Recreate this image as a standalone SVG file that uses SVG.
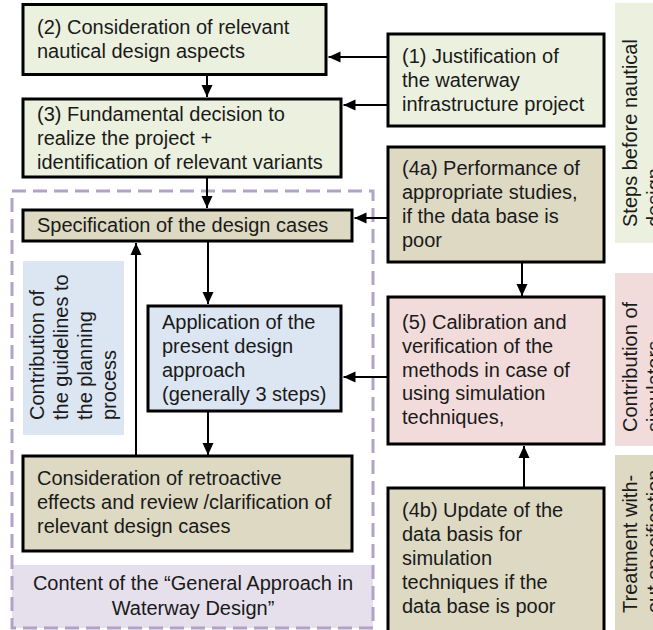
<svg xmlns="http://www.w3.org/2000/svg" width="653" height="630" viewBox="0 0 653 630">
  <style>
    text { font-family: "Liberation Sans", Arial, sans-serif; font-size: 20px; fill: #1a1a1a; }
    .box { stroke: #000; stroke-width: 3; }
    .green { fill: #ebf1de; }
    .tan { fill: #ddd9c3; }
    .pink { fill: #f2dcdb; }
    .blue { fill: #dce6f2; }
    .lav { fill: #e5e0ec; }
    .conn { stroke: #000; stroke-width: 2; fill: none; marker-end: url(#arrow); }
  </style>
  <defs>
    <marker id="arrow" markerUnits="userSpaceOnUse" markerWidth="12" markerHeight="12" viewBox="0 0 12 12" refX="12" refY="6" orient="auto">
      <path d="M0,0.5 L12,6 L0,11.5 Z" fill="#000"/>
    </marker>
  </defs>

  <!-- side labels -->
  <g id="label-steps">
    <rect class="green" x="615" y="3" width="40" height="240"/>
    <text transform="translate(637,227) rotate(-90)"><tspan x="0" y="0">Steps before nautical</tspan><tspan x="0" y="24">design</tspan></text>
  </g>
  <g id="label-simulators">
    <rect class="pink" x="615" y="273" width="40" height="173"/>
    <text transform="translate(637,432) rotate(-90)"><tspan x="0" y="0">Contribution of</tspan><tspan x="0" y="24">simulators</tspan></text>
  </g>
  <g id="label-treatment">
    <rect class="tan" x="615" y="455" width="40" height="180"/>
    <text transform="translate(637,613) rotate(-90)"><tspan x="0" y="0">Treatment with-</tspan><tspan x="0" y="24">out specification</tspan></text>
  </g>

  <!-- general approach frame -->
  <g id="content-frame">
    <rect class="lav" x="12" y="565" width="361" height="63"/>
    <rect x="12" y="191" width="361" height="437" fill="none" stroke="#b3a2c7" stroke-width="3" stroke-dasharray="14 7"/>
    <text x="193" y="590" text-anchor="middle">Content of the “General Approach in</text>
    <text x="193" y="615" text-anchor="middle">Waterway Design”</text>
  </g>
  <g id="label-guidelines">
    <rect class="blue" x="23" y="261" width="101" height="174"/>
    <text transform="translate(44,420) rotate(-90)"><tspan x="0" y="0">Contribution of</tspan><tspan x="0" y="24">the guidelines to</tspan><tspan x="0" y="48">the planning</tspan><tspan x="0" y="72">process</tspan></text>
  </g>

  <!-- connectors -->
  <g id="connectors">
    <line class="conn" x1="387" y1="57" x2="328.5" y2="57"/>
    <line class="conn" x1="387" y1="105" x2="343.5" y2="105"/>
    <line class="conn" x1="207" y1="76" x2="207" y2="97"/>
    <line class="conn" x1="207" y1="178" x2="207" y2="208"/>
    <line class="conn" x1="387" y1="218" x2="354.5" y2="218"/>
    <line class="conn" x1="208" y1="242" x2="208" y2="304"/>
    <line class="conn" x1="522" y1="263" x2="522" y2="296"/>
    <line class="conn" x1="387" y1="377" x2="343.5" y2="377"/>
    <line class="conn" x1="524" y1="487" x2="524" y2="446"/>
    <line class="conn" x1="208" y1="412" x2="208" y2="455"/>
    <line class="conn" x1="136" y1="455" x2="136" y2="243"/>
  </g>

  <!-- nodes -->
  <g id="step1">
    <rect class="box green" x="388" y="34" width="216" height="92"/>
    <text x="402" y="63">(1) Justification of</text>
    <text x="402" y="87">the waterway</text>
    <text x="402" y="111">infrastructure project</text>
  </g>
  <g id="step2">
    <rect class="box green" x="23" y="4.5" width="303" height="70"/>
    <text x="37" y="34">(2) Consideration of relevant</text>
    <text x="37" y="58">nautical design aspects</text>
  </g>
  <g id="step3">
    <rect class="box green" x="23" y="99" width="318" height="78"/>
    <text x="37" y="121">(3) Fundamental  decision to</text>
    <text x="37" y="145">realize the project +</text>
    <text x="37" y="169">identification of relevant variants</text>
  </g>
  <g id="step4a">
    <rect class="box tan" x="388" y="147" width="216" height="115"/>
    <text x="402" y="175">(4a) Performance of</text>
    <text x="402" y="199">appropriate studies,</text>
    <text x="402" y="223">if the data base is</text>
    <text x="402" y="247">poor</text>
  </g>
  <g id="step5">
    <rect class="box pink" x="388" y="297" width="216" height="147"/>
    <text x="402" y="329">(5) Calibration and</text>
    <text x="402" y="353">verification of the</text>
    <text x="402" y="377">methods in case of</text>
    <text x="402" y="400">using simulation</text>
    <text x="402" y="424">techniques,</text>
  </g>
  <g id="step4b">
    <rect class="box tan" x="388" y="488" width="216" height="150"/>
    <text x="402" y="517">(4b) Update of the</text>
    <text x="402" y="541">data basis for</text>
    <text x="402" y="565">simulation</text>
    <text x="402" y="589">techniques if the</text>
    <text x="402" y="613">data base is poor</text>
  </g>
  <g id="design-cases">
    <rect class="box tan" x="23" y="210" width="329" height="31"/>
    <text x="37" y="232">Specification of the design cases</text>
  </g>
  <g id="design-approach">
    <rect class="box blue" x="148" y="306" width="193" height="105"/>
    <text x="162" y="329">Application of the</text>
    <text x="162" y="353">present design</text>
    <text x="162" y="377">approach</text>
    <text x="162" y="401">(generally 3 steps)</text>
  </g>
  <g id="retroactive-effects">
    <rect class="box tan" x="23" y="456" width="329" height="95"/>
    <text x="37" y="485">Consideration of retroactive</text>
    <text x="37" y="509">effects and review /clarification of</text>
    <text x="37" y="533">relevant design cases</text>
  </g>
</svg>
